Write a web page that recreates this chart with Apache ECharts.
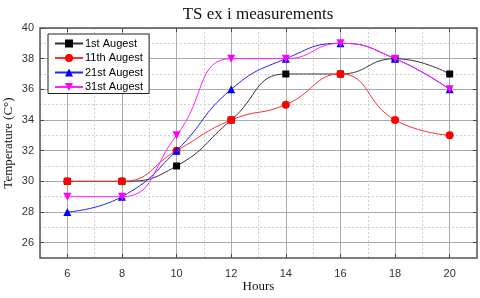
<!DOCTYPE html>
<html><head><meta charset="utf-8">
<script src="https://cdn.jsdelivr.net/npm/echarts@6/dist/echarts.min.js"></script>
<style>html,body{margin:0;padding:0;background:#fff}#c{width:480px;height:298px}</style>
</head><body><div id="c"></div>
<script>
var hours = [6, 8, 10, 12, 14, 16, 18, 20];
var aug1  = [30, 30, 31, 34, 37, 37, 38, 37];
var aug11 = [30, 30, 32, 34, 35, 37, 34, 33];
var aug21 = [28, 29, 32, 36, 38, 39, 38, 36];
var aug31 = [29, 29, 33, 38, 38, 39, 38, 36];
var seriesNames = ['1st Augest', '11th Augest', '21st Augest', '31st Augest'];

var X_MIN = 5, X_MAX = 21, Y_MIN = 25, Y_MAX = 40;
var X_TICK_MIN = 6, X_TICK_MAX = 20, Y_TICK_MIN = 26, Y_TICK_MAX = 40;

var W = 480, H = 298;
var L = 40, R = 3, T = 28, B = 40;
var pw = W - L - R, ph = H - T - B;
var xu = pw / (X_MAX - X_MIN), yu = ph / (Y_MAX - Y_MIN);

function pairs(v){ return hours.map(function(h,i){ return [h, v[i]]; }); }

var labelFont = {fontFamily:'Liberation Sans', fontSize:11, color:'#333'};
var gridColor = '#aaaaaa';

var chart = echarts.init(document.getElementById('c'), null, {renderer:'canvas'});
chart.setOption({
  animation:false,
  backgroundColor:'#fff',
  title:{text:'TS ex i measurements', left:253, top:1, textAlign:'center',
    textStyle:{fontFamily:'Liberation Serif', fontSize:17, fontWeight:'normal', color:'#111'}},
  legend:{orient:'vertical', left:48, top:34, padding:[4,6,1,6], itemGap:3.5, itemWidth:28, itemHeight:10,
    borderColor:'#222', borderWidth:1, backgroundColor:'#fff', data:seriesNames,
    textStyle:{fontFamily:'Liberation Sans', fontSize:11, color:'#000', padding:[0,0,0,-3]}, z:20},
  grid:[
    {left:L, right:R, top:T, bottom:B, show:true, borderColor:'#555', borderWidth:1.5, backgroundColor:'transparent', z:5, outerBoundsMode:'none', containLabel:false},
    {left:L, right:R, top:T + (Y_MAX - Y_TICK_MAX)*yu, bottom:B + (Y_TICK_MIN - Y_MIN)*yu, outerBoundsMode:'none', containLabel:false},
    {left:L + (X_TICK_MIN - X_MIN)*xu, right:R + (X_MAX - X_TICK_MAX)*xu, top:T, bottom:B, outerBoundsMode:'none', containLabel:false}
  ],
  xAxis:[
    {gridIndex:0, type:'value', min:X_MIN, max:X_MAX, interval:1,
      name:'Hours', nameLocation:'middle', nameGap:22,
      nameTextStyle:{fontFamily:'Liberation Serif', fontSize:13, color:'#111'},
      axisLine:{show:false}, axisTick:{show:false}, axisLabel:{show:false},
      splitLine:{show:true, lineStyle:{color:'#d0d0d0', type:[2,2], width:1}}},
    {gridIndex:1, type:'value', min:X_MIN, max:X_MAX, show:false},
    {gridIndex:2, type:'value', min:X_TICK_MIN, max:X_TICK_MAX, interval:2, position:'bottom',
      axisLine:{show:false}, axisTick:{show:true, inside:true, length:4, lineStyle:{color:'#444'}},
      axisLabel:Object.assign({margin:10}, labelFont),
      splitLine:{show:true, lineStyle:{color:gridColor, width:1}}},
    {gridIndex:2, type:'value', min:X_TICK_MIN, max:X_TICK_MAX, interval:2, position:'top',
      axisLine:{show:false}, axisTick:{show:true, inside:true, length:4, lineStyle:{color:'#444'}},
      axisLabel:{show:false}, splitLine:{show:false}}
  ],
  yAxis:[
    {gridIndex:0, type:'value', min:Y_MIN, max:Y_MAX, interval:1,
      name:'Temperature (C°)', nameLocation:'middle', nameGap:25,
      nameTextStyle:{fontFamily:'Liberation Serif', fontSize:13, color:'#111'},
      axisLine:{show:false}, axisTick:{show:false}, axisLabel:{show:false},
      splitLine:{show:true, lineStyle:{color:'#d0d0d0', type:[2,2], width:1}}},
    {gridIndex:1, type:'value', min:Y_TICK_MIN, max:Y_TICK_MAX, interval:2, position:'left',
      axisLine:{show:false}, axisTick:{show:true, inside:true, length:4, lineStyle:{color:'#444'}},
      axisLabel:Object.assign({margin:6}, labelFont),
      splitLine:{show:true, lineStyle:{color:gridColor, width:1}}},
    {gridIndex:2, type:'value', min:Y_MIN, max:Y_MAX, show:false},
    {gridIndex:1, type:'value', min:Y_TICK_MIN, max:Y_TICK_MAX, interval:2, position:'right',
      axisLine:{show:false}, axisTick:{show:true, inside:true, length:4, lineStyle:{color:'#444'}},
      axisLabel:{show:false}, splitLine:{show:false}}
  ],
  series:[
    {name:seriesNames[0], type:'line', xAxisIndex:0, yAxisIndex:0, data:pairs(aug1), smooth:0.5, symbol:'rect', symbolSize:7,
      itemStyle:{color:'#000'}, lineStyle:{color:'#333', width:1}, z:10},
    {name:seriesNames[1], type:'line', xAxisIndex:0, yAxisIndex:0, data:pairs(aug11), smooth:0.5, symbol:'circle', symbolSize:8,
      itemStyle:{color:'#ff0000'}, lineStyle:{color:'#ff3030', width:1}, z:11},
    {name:seriesNames[2], type:'line', xAxisIndex:0, yAxisIndex:0, data:pairs(aug21), smooth:0.5, symbol:'triangle', symbolSize:8,
      itemStyle:{color:'#0000ff'}, lineStyle:{color:'#2020ff', width:1}, z:12},
    {name:seriesNames[3], type:'line', xAxisIndex:0, yAxisIndex:0, data:pairs(aug31), smooth:0.5, symbol:'triangle', symbolRotate:180, symbolSize:8,
      itemStyle:{color:'#ff00ff'}, lineStyle:{color:'#ff20ff', width:1}, z:13}
  ]
});
</script></body></html>
